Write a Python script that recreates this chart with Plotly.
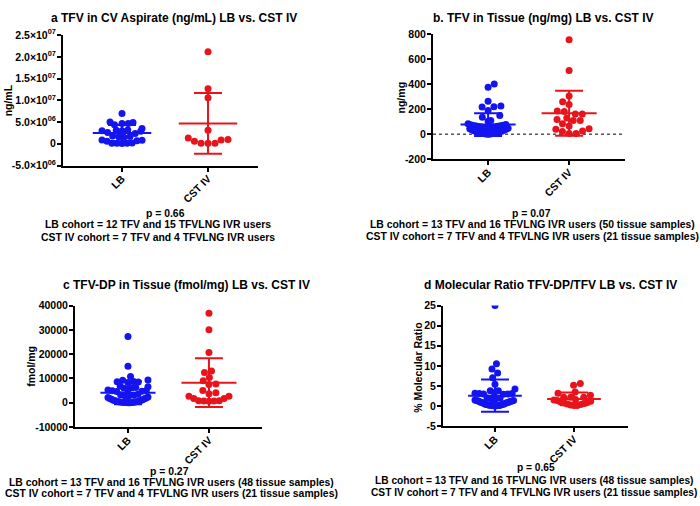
import numpy as np
import plotly.graph_objects as go

W, H = 700, 506
FONT = "Arial, 'Liberation Sans', Helvetica, sans-serif"
BLUE = "#1414F0"
RED = "#E8141C"

categories = ["LB", "CST IV"]

# ---------------- panel a : TFV in CV aspirate (ng/mL)
a_lb_values = [7.0e6, 5.0e6, 4.7e6, 4.4e6, 4.7e6, 4.9e6, 3.5e6, 3.0e6, 3.1e6, 2.9e6,
               3.0e6, 3.2e6, 2.6e6, 2.4e6, 1.7e6, 1.5e6, 1.6e6, 1.8e6, 0.8e6, 0.7e6,
               0.9e6, 0.6e6, 0.1e6, 0.15e6, 0.2e6, 0.1e6, 0.05e6]
a_cst_values = [21.2e6, 12.65e6, 10.6e6, 3.1e6, 1.34e6, 0.9e6, 0.15e6, 0.15e6, 0.15e6,
                0.6e6, 1.0e6]
a_means = [2.46e6, 4.69e6]
a_sds = [1.85e6, 7.0e6]
a_ytick_vals = [-5e6, 0, 5e6, 1e7, 1.5e7, 2e7, 2.5e7]
a_ytick_text = ["-5.0×10<sup>06</sup>", "0", "5.0×10<sup>06</sup>", "1.0×10<sup>07</sup>",
                "1.5×10<sup>07</sup>", "2.0×10<sup>07</sup>", "2.5×10<sup>07</sup>"]

# ---------------- panel b : TFV in tissue (ng/mg)
b_lb_values = [401, 375, 264, 220, 218, 225, 190, 150, 135, 104, 110, 83, 78,
               75, 72, 70, 68, 66, 64, 62, 60, 58, 56, 54, 52, 50, 47, 44, 41, 38, 35,
               32, 29, 26, 23, 20, 18, 16, 14, 12, 10, 8, 7, 6, 5, 4, 3, 2, 1, 0.5]
b_cst_values = [756, 510, 305, 259, 238, 181, 186, 161, 161, 117, 109, 130, 109, 83,
                65, 39, 44, 21, 26, 5, 5]
b_means = [77, 168]
b_sds = [91, 180]
b_ytick_vals = [-200, 0, 200, 400, 600, 800]
b_ytick_text = ["-200", "0", "200", "400", "600", "800"]

# ---------------- panel c : TFV-DP in tissue (fmol/mg)
c_lb_values = [27300, 15000, 10800, 9300, 8700, 8500, 8300, 8600, 9400,
               6800, 6300, 6000, 6200, 6600, 5400, 5000, 4700, 4600, 4900, 5200,
               3500, 3300, 3100, 2900, 2700, 2400, 2200, 2000, 1800, 1600, 1400, 1200,
               1000, 900, 800, 700, 600, 500, 400, 350, 300, 250, 200, 150, 100, 80, 50, 30]
c_cst_values = [36800, 30000, 20667, 12400, 13067, 10400, 9067, 7467, 7733, 5067, 4133,
                3733, 2667, 2667, 1733, 1733, 800, 700, 600, 700, 800]
c_means = [4133, 8267]
c_sds = [4700, 10000]
c_ytick_vals = [-10000, 0, 10000, 20000, 30000, 40000]
c_ytick_text = ["-10000", "0", "10000", "20000", "30000", "40000"]

# ---------------- panel d : molecular ratio (%)
d_lb_values = [25, 10.5, 9.2, 8.2, 7.0, 5.4, 4.2, 3.8, 3.8, 3.2, 3.1, 3.0, 2.9, 3.0, 3.1,
               3.3, 2.0, 1.8, 1.7, 1.9, 1.5, 1.4, 1.35, 1.3, 1.25, 1.2, 1.1, 1.0, 0.95,
               0.9, 0.85, 0.8, 0.7, 0.6, 0.5, 0.45, 0.4, 0.35, 0.3, 0.25, 0.2, 0.18, 0.15,
               0.12, 0.1, 0.08, 0.05, 0.03]
d_cst_values = [5.6, 5.15, 3.5, 3.2, 2.7, 2.2, 2.2, 2.2, 1.6, 1.5, 1.4, 1.2, 1.0, 0.9,
                0.8, 0.6, 0.5, 0.4, 0.25, 0.15, 0.1]
d_means = [2.58, 1.77]
d_sds = [4.0, 1.6]
d_ytick_vals = [-5, 0, 5, 10, 15, 20, 25]
d_ytick_text = ["-5", "0", "5", "10", "15", "20", "25"]

titles = ["a TFV in CV Aspirate (ng/mL) LB vs. CST IV",
          "b. TFV in Tissue (ng/mg) LB vs. CST IV",
          "c TFV-DP in Tissue (fmol/mg) LB vs. CST IV",
          "d Molecular Ratio TFV-DP/TFV LB vs. CST IV"]
y_titles = ["ng/mL", "ng/mg", "fmol/mg", "% Molecular Ratio"]
p_texts = ["p = 0.66", "p = 0.07", "p = 0.27", "p = 0.65"]
cohort_lb = ["LB cohort = 12 TFV and 15 TFVLNG IVR users",
             "LB cohort = 13 TFV and 16 TFVLNG IVR users (50 tissue samples)",
             "LB cohort = 13 TFV and 16 TFVLNG IVR users (48 tissue samples)",
             "LB cohort = 13 TFV and 16 TFVLNG IVR users (48 tissue samples)"]
cohort_cst = ["CST IV cohort = 7 TFV and 4 TFVLNG IVR users",
              "CST IV cohort = 7 TFV and 4 TFVLNG IVR users (21 tissue samples)",
              "CST IV cohort = 7 TFV and 4 TFVLNG IVR users (21 tissue samples)",
              "CST IV cohort = 7 TFV and 4 TFVLNG IVR users (21 tissue samples)"]

# ---------------- geometry (pixels) of each panel
geom = [
    dict(l=63, r=258, t=28, b=162, xr=[0.314, 2.581], title=(174, 1), ytitle=(8, 95),
         cap=(165, 158, [211, 223, 236]), capsize=10.4),
    dict(l=433, r=625, t=27, b=155.5, xr=[0.32, 2.69], title=(543, 1), ytitle=(401, 92),
         cap=(531, 532, [211, 223, 235]), capsize=10.4),
    dict(l=75, r=262, t=306, b=431, xr=[0.346, 2.655], title=(186, 285), ytitle=(31, 368),
         cap=(169, 171, [477, 488, 499]), capsize=10.4),
    dict(l=443, r=628, t=306, b=430, xr=[0.342, 2.684], title=(550, 285), ytitle=(418, 370),
         cap=(536, 534, [473, 486, 498]), capsize=10.2),
]

data_sets = [
    (a_lb_values, a_cst_values, a_means, a_sds, a_ytick_vals, a_ytick_text),
    (b_lb_values, b_cst_values, b_means, b_sds, b_ytick_vals, b_ytick_text),
    (c_lb_values, c_cst_values, c_means, c_sds, c_ytick_vals, c_ytick_text),
    (d_lb_values, d_cst_values, d_means, d_sds, d_ytick_vals, d_ytick_text),
]


def beeswarm(vals, ypx, d=7.0, limit=20.0, row_h=7.0):
    """Column-scatter offsets (pixels) computed from the values."""
    y = np.asarray(vals, float) * ypx
    order = np.argsort(y, kind="stable")
    xs = np.zeros(len(y))
    placed = []
    flip = 1
    for i in order:
        cands = [0.0]
        intervals = []
        for j in placed:
            dy = abs(y[i] - y[j])
            if dy < d:
                w = np.sqrt(d * d - dy * dy)
                intervals.append((xs[j] - w, xs[j] + w))
                cands += [xs[j] - w, xs[j] + w]
        valid = [c for c in cands
                 if all(not (lo + 1e-7 < c < hi - 1e-7) for lo, hi in intervals)]
        best = min(abs(c) for c in valid)
        opts = [c for c in valid if abs(abs(c) - best) < 1e-6]
        if len(opts) > 1:
            c = max(opts) if flip > 0 else min(opts)
            flip = -flip
        else:
            c = opts[0]
        xs[i] = c
        placed.append(i)
    # row-wise compression to the column width
    k = 0
    ys = y[order]
    while k < len(order):
        m = k
        while m < len(order) and ys[m] - ys[k] < row_h:
            m += 1
        idx = order[k:m]
        mx = np.max(np.abs(xs[idx]))
        if mx > limit:
            xs[idx] *= limit / mx
        k = m
    return xs


fig = go.Figure()
layout = dict(width=W, height=H, margin=dict(l=0, r=0, t=0, b=0),
              paper_bgcolor="white", plot_bgcolor="white", showlegend=False,
              annotations=[], shapes=[])

tick_font = dict(family=FONT, size=10.5, color="black", weight="bold")

for p, (g, ds) in enumerate(zip(geom, data_sets)):
    lb, cst, means, sds, ytv, ytt = ds
    sfx = "" if p == 0 else str(p + 1)
    xa, ya = "x" + sfx, "y" + sfx
    yr = [ytv[0], ytv[-1]]
    ypx = (g["b"] - g["t"]) / (yr[1] - yr[0])
    xpx = (g["r"] - g["l"]) / (g["xr"][1] - g["xr"][0])

    for ci, (vals, col) in enumerate([(lb, BLUE), (cst, RED)]):
        off = beeswarm(vals, ypx)
        fig.add_trace(go.Scatter(
            x=(ci + 1) + off / xpx, y=vals, mode="markers", xaxis=xa, yaxis=ya,
            marker=dict(color=col, size=7, line=dict(width=0)), hoverinfo="y"))
    for ci, col in enumerate([BLUE, RED]):
        fig.add_trace(go.Scatter(
            x=[ci + 1], y=[means[ci]], mode="markers", xaxis=xa, yaxis=ya,
            marker=dict(color=col, size=1),
            error_y=dict(type="data", array=[sds[ci]], color=col, thickness=2, width=14),
            error_x=dict(type="data", array=[0.34], color=col, thickness=2, width=0)))

    layout["xaxis" + sfx] = dict(
        domain=[g["l"] / W, g["r"] / W], range=g["xr"], anchor=ya,
        tickvals=[1, 2], ticktext=categories, tickangle=-45, tickfont=tick_font,
        showline=True, linecolor="black", linewidth=2, ticks="outside", ticklen=4,
        tickwidth=2, tickcolor="black", showgrid=False, zeroline=False, fixedrange=True,
        ticklabelstandoff=-3)
    layout["yaxis" + sfx] = dict(
        domain=[1 - g["b"] / H, 1 - g["t"] / H], range=yr, anchor=xa,
        tickvals=ytv, ticktext=ytt, tickfont=tick_font,
        showline=True, linecolor="black", linewidth=2, ticks="outside", ticklen=4,
        tickwidth=2, tickcolor="black", showgrid=False, zeroline=False, fixedrange=True,
        ticklabelstandoff=-1)

    tx, ty = g["title"]
    layout["annotations"].append(dict(
        text=titles[p], x=tx / W, y=1 - ty / H, xref="paper", yref="paper",
        xanchor="center", yanchor="top" if p < 2 else "middle", showarrow=False,
        font=dict(family=FONT, size=12, color="black", weight="bold")))
    atx, aty = g["ytitle"]
    layout["annotations"].append(dict(
        text=y_titles[p], x=atx / W, y=1 - aty / H, xref="paper", yref="paper",
        xanchor="center", yanchor="middle", showarrow=False, textangle=-90,
        font=dict(family=FONT, size=10.5, color="black", weight="bold")))
    pcx, lcx, ys = g["cap"]
    for txt, cx, cy in [(p_texts[p], pcx, ys[0]), (cohort_lb[p], lcx, ys[1]),
                        (cohort_cst[p], lcx, ys[2])]:
        layout["annotations"].append(dict(
            text=txt, x=cx / W, y=1 - cy / H, xref="paper", yref="paper",
            xanchor="center", yanchor="middle", showarrow=False,
            font=dict(family=FONT, size=g["capsize"], color="black", weight="bold")))

layout["shapes"].append(dict(type="line", xref="x2 domain", yref="y2", x0=0, x1=1,
                             y0=0, y1=0, layer="below",
                             line=dict(color="#555555", width=1.5, dash="dot")))

fig.update_layout(**layout)
fig.write_html("out.html", config={"displayModeBar": False},
               post_script="document.body.style.margin='0';document.body.style.overflow='hidden';")
